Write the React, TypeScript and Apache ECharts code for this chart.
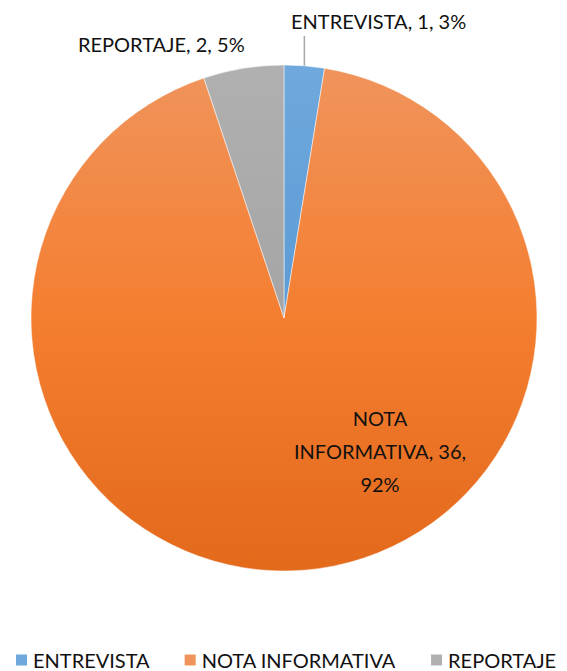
import React, { useEffect, useRef } from "react";
import * as echarts from "echarts";

const categories = ["ENTREVISTA", "NOTA INFORMATIVA", "REPORTAJE"];
const values = [1, 36, 2];
const colorStops = [
  ["#6FA8DC", "#5B9BD5", "#4A89C9"],
  ["#F0945C", "#F47E30", "#E3691B"],
  ["#B0B0B0", "#A5A5A5", "#959595"],
];

const FONT = "Lato";

export default function App() {
  const ref = useRef<HTMLDivElement>(null);
  useEffect(() => {
    if (!ref.current) return;
    const chart = echarts.init(ref.current, undefined, { renderer: "svg" });
    const cx = 284, cy = 318, r = 253;
    const grad = (stops: string[]) => ({
      type: "linear",
      x: 0, y: cy - r, x2: 0, y2: cy + r,
      global: true,
      colorStops: [
        { offset: 0, color: stops[0] },
        { offset: 0.5, color: stops[1] },
        { offset: 1, color: stops[2] },
      ],
    });
    chart.setOption({
      animation: false,
      legend: {
        data: categories,
        left: 9,
        top: 645,
        icon: "rect",
        itemWidth: 13,
        itemHeight: 13,
        itemGap: 33,
        textStyle: { fontFamily: FONT, fontSize: 20, color: "#111" },
      },
      series: [
        {
          type: "pie",
          center: [cx, cy],
          radius: [0, r],
          startAngle: 90,
          clockwise: true,
          percentPrecision: 0,
          data: categories.map((name, i) => ({
            name,
            value: values[i],
            itemStyle: { color: grad(colorStops[i]) },
            label: { position: i === 1 ? "inside" : "outside" },
            labelLine: { show: i === 0 },
          })),
          itemStyle: { borderColor: "#ffffff", borderWidth: 0.5 },
          label: {
            fontFamily: FONT,
            fontSize: 20,
            color: "#111",
            lineHeight: 33,
            align: "center",
            formatter: (p: any) => {
              if (p.dataIndex === 1) {
                return p.name.replace(" ", "\n") + ", " + p.value + ",\n" + p.percent + "%";
              }
              return p.name + ", " + p.value + ", " + p.percent + "%";
            },
          },
          labelLine: {
            length: 28,
            length2: 0,
            lineStyle: { color: "#a6a6a6", width: 1.5 },
          },
          labelLayout: (params: any) => {
            const i = params.dataIndex;
            if (i === 0) {
              const pts = params.labelLinePoints;
              const p0 = pts ? pts[0] : [304, 65];
              return {
                x: 291,
                y: 21,
                align: "left",
                verticalAlign: "middle",
                labelLinePoints: [p0, [p0[0], 36], [p0[0], 36]],
              };
            }
            if (i === 2) {
              return { x: 78, y: 44, align: "left", verticalAlign: "middle" };
            }
            return { x: 380, y: 451, align: "center", verticalAlign: "middle" };
          },
        },
      ],
    });
    return () => chart.dispose();
  }, []);
  return (
    <div
      ref={ref}
      style={{ position: "fixed", left: 0, top: 0, width: 567, height: 671, background: "#fff" }}
    />
  );
}
